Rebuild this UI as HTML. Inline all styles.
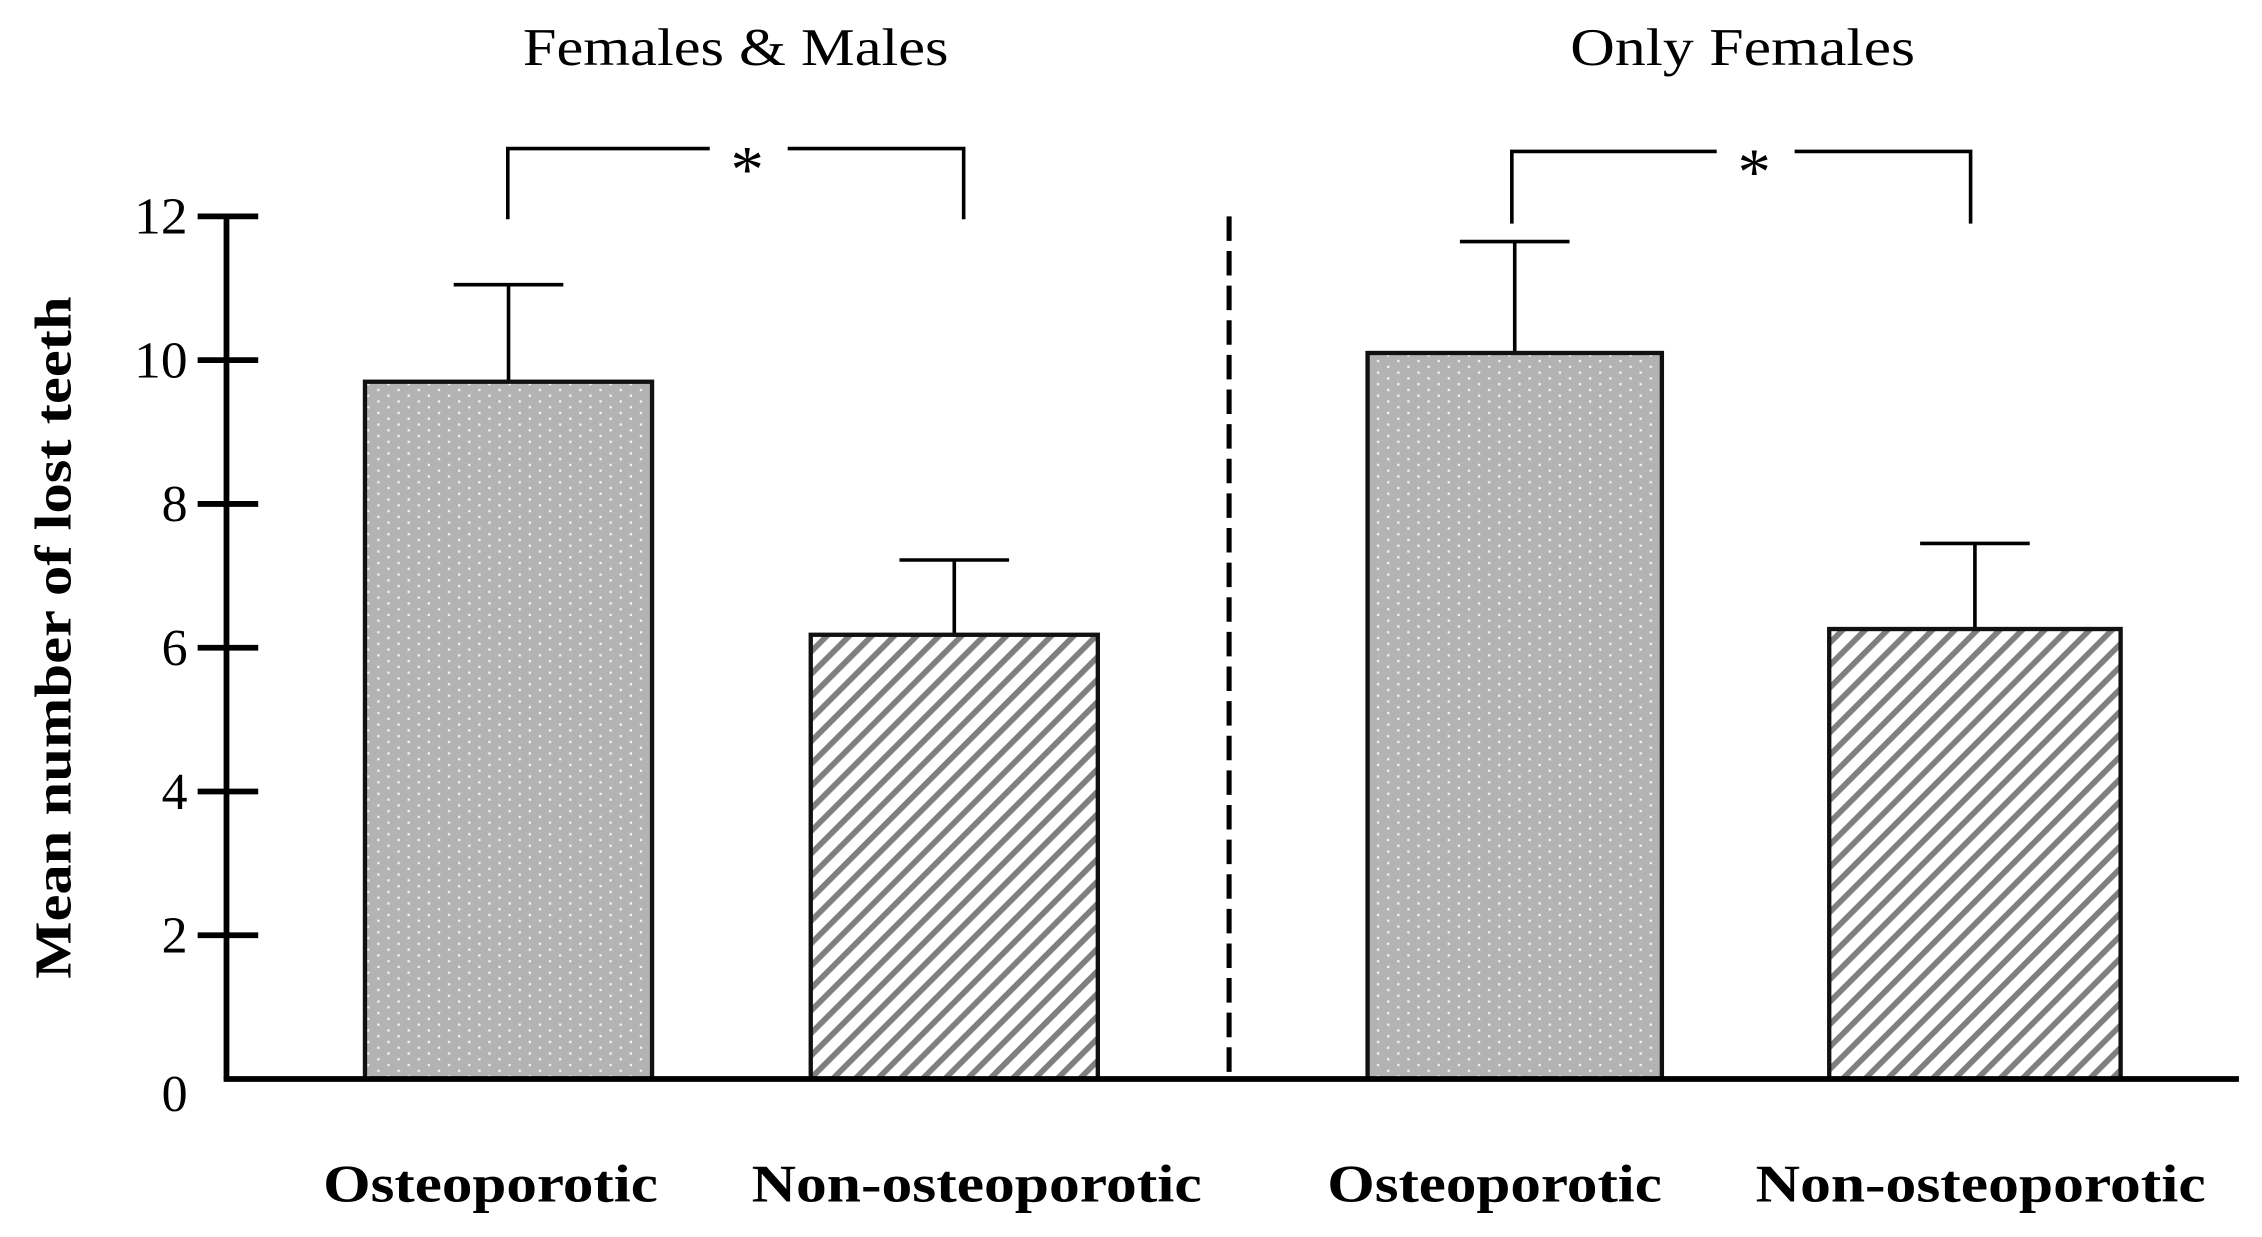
<!DOCTYPE html>
<html><head><meta charset="utf-8"><style>
html,body{margin:0;padding:0;background:#fff;}
svg{display:block;}
text{font-family:"Liberation Serif",serif;fill:#000;}
</style></head><body>
<svg id="chart" width="2262" height="1237" viewBox="0 0 1568 857.5" preserveAspectRatio="none" xmlns="http://www.w3.org/2000/svg">
<defs>
<pattern id="dots" patternUnits="userSpaceOnUse" width="14" height="8">
<rect width="14" height="8" fill="#b3b3b3"/>
<rect x="2.5" y="1.5" width="1.6" height="1.6" fill="#f4f4f4"/>
<rect x="9.5" y="5.5" width="1.6" height="1.6" fill="#f4f4f4"/>
</pattern>
<pattern id="hatch" patternUnits="userSpaceOnUse" width="11" height="11" patternTransform="rotate(45)">
<rect width="11" height="11" fill="#fff"/>
<rect x="0" y="0" width="4" height="11" fill="#7f7f7f"/>
</pattern>
</defs>
<g id="layer"></g>
</svg>
<script>
const categories = ["Osteoporotic","Non-osteoporotic","Osteoporotic","Non-osteoporotic"];
const means = [9.7, 6.18, 10.1, 6.26];
const errTops = [11.05, 7.22, 11.65, 7.45];
const yTicks = [0,2,4,6,8,10,12];
const panelTitles = ["Females & Males","Only Females"];

const NS="http://www.w3.org/2000/svg";
const g=document.getElementById('layer');
const y0=748, y12=150;
function y(v){return y0-(y0-y12)*v/12;}
const barX=[253,562,948,1268], barW=[199,199,204,202];
function mk(tag,attrs,txt){const e=document.createElementNS(NS,tag);for(const k in attrs)e.setAttribute(k,attrs[k]);if(txt!==undefined)e.textContent=txt;g.appendChild(e);return e;}

let e=mk('line',{x1:157,y1:y(12),x2:157,y2:y0,stroke:'#000','stroke-width':4});


yTicks.forEach(t=>{
  if(t>0){let l=mk('line',{x1:137,y1:y(t),x2:179,y2:y(t),stroke:'#000','stroke-width':4});
  
  }
  const a={x:130,y:y(t)+(t===0?22:12),'text-anchor':'end','font-size':36};
  if(String(t).length===2){a.textLength=37;a.lengthAdjust='spacingAndGlyphs';}
  let tx=mk('text',a,String(t));
  
  
});
e=mk('text',{x:0,y:0,'font-size':36,'font-weight':'bold','text-anchor':'middle',textLength:473,lengthAdjust:'spacingAndGlyphs',transform:'translate(49,442) rotate(-90)'},'Mean number of lost teeth');



const labX=[340,677,1036,1373], labW=[232,312,232,312];
means.forEach((m,i)=>{
  const cx=barX[i]+barW[i]/2;
  let eb=mk('line',{x1:cx,y1:y(m),x2:cx,y2:y(errTops[i]),stroke:'#000','stroke-width':2.5});
  
  
  let cap=mk('line',{x1:cx-38,y1:y(errTops[i]),x2:cx+38,y2:y(errTops[i]),stroke:'#000','stroke-width':2.5});
  
  
  let r=mk('rect',{x:barX[i],y:y(m),width:barW[i],height:y0-y(m),fill:i%2===0?'url(#dots)':'url(#hatch)',stroke:'#111','stroke-width':3});
  
  
  let lb=mk('text',{x:labX[i],y:833,'text-anchor':'middle','font-size':37,'font-weight':'bold',textLength:labW[i],lengthAdjust:'spacingAndGlyphs'},categories[i]);
  
  
});

e=mk('line',{x1:155,y1:y0,x2:1552,y2:y0,stroke:'#000','stroke-width':4});


e=mk('line',{x1:852,y1:150,x2:852,y2:y0,stroke:'#000','stroke-width':3.5,'stroke-dasharray':'17,7'});



[[510,panelTitles[0],295],[1208,panelTitles[1],239]].forEach(([x,t,w])=>{
  let tt=mk('text',{x:x,y:45,'text-anchor':'middle','font-size':37,textLength:w,lengthAdjust:'spacingAndGlyphs'},t);
  
  
});
[[352,668,103,152,518],[1048,1366,105,155,1216]].forEach(([a,b,top,bot,sx])=>{
  let p=mk('path',{d:`M${a},${bot} V${top} H${sx-26} M${sx+28},${top} H${b} V${bot}`,fill:'none',stroke:'#000','stroke-width':2.5});
  
  
  let s=mk('text',{x:sx,y:top+30,'text-anchor':'middle','font-size':46},'*');
  
  
});
</script>
</body></html>
